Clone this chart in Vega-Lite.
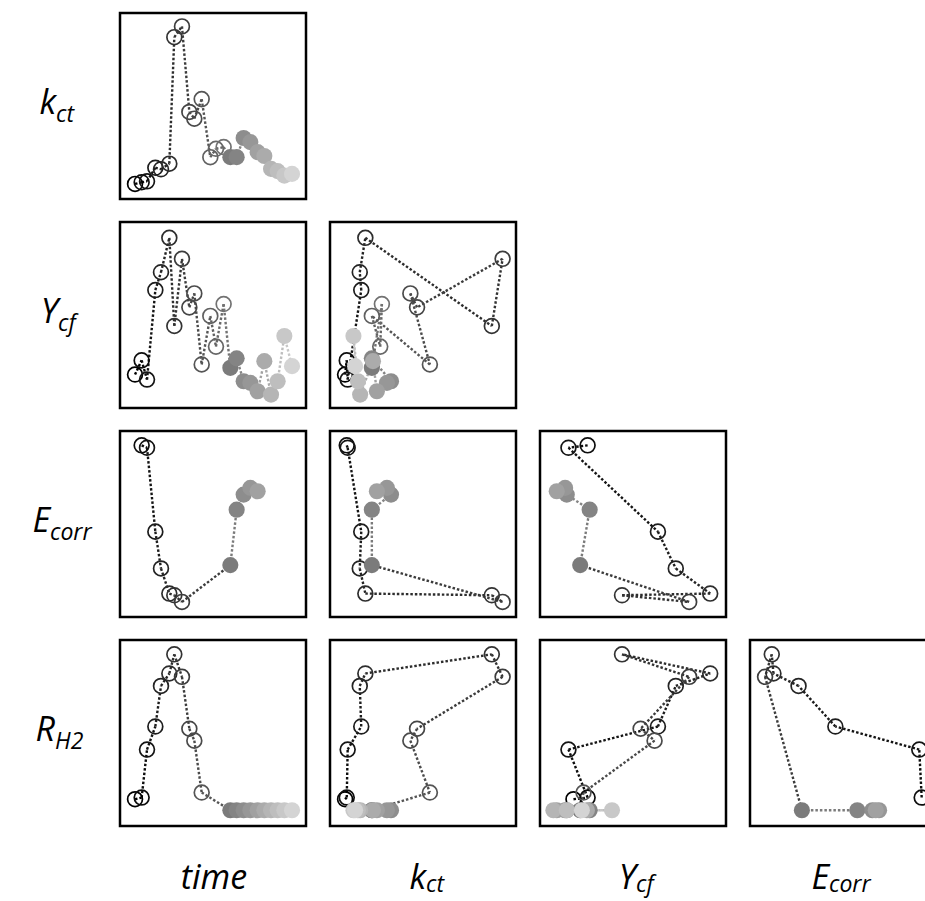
{
"$schema": "https://vega.github.io/schema/vega-lite/v6.json",
"padding": {"left": 0, "top": 11, "right": 0, "bottom": 5},
"background": "white",
"config": {"view": {"stroke": "#000000", "strokeWidth": 2.5}},
"datasets": {"d": [
{"time":2.02,"kct":0.81,"ycf":1.80,"ecorr":null,"rh2":1.44,"phase":"open"},
{"time":2.91,"kct":0.90,"ycf":2.56,"ecorr":9.23,"rh2":1.53,"phase":"open"},
{"time":3.63,"kct":0.95,"ycf":1.53,"ecorr":9.10,"rh2":4.11,"phase":"open"},
{"time":4.75,"kct":1.68,"ycf":6.34,"ecorr":4.59,"rh2":5.35,"phase":"open"},
{"time":5.51,"kct":1.60,"ycf":7.30,"ecorr":2.61,"rh2":7.53,"phase":"open"},
{"time":6.63,"kct":1.90,"ycf":9.15,"ecorr":1.26,"rh2":8.20,"phase":"open"},
{"time":7.30,"kct":8.70,"ycf":4.41,"ecorr":1.17,"rh2":9.23,"phase":"open"},
{"time":8.33,"kct":9.28,"ycf":8.02,"ecorr":0.81,"rh2":8.02,"phase":"open"},
{"time":9.32,"kct":4.68,"ycf":5.41,"ecorr":null,"rh2":5.23,"phase":"open"},
{"time":9.99,"kct":4.32,"ycf":6.16,"ecorr":null,"rh2":4.59,"phase":"open"},
{"time":10.98,"kct":5.37,"ycf":2.34,"ecorr":null,"rh2":1.80,"phase":"open"},
{"time":12.14,"kct":2.25,"ycf":4.95,"ecorr":null,"rh2":null,"phase":"open"},
{"time":12.90,"kct":2.70,"ycf":3.30,"ecorr":null,"rh2":null,"phase":"open"},
{"time":13.93,"kct":2.79,"ycf":5.59,"ecorr":null,"rh2":null,"phase":"open"},
{"time":14.83,"kct":2.25,"ycf":2.16,"ecorr":2.79,"rh2":0.85,"phase":"filled"},
{"time":15.68,"kct":2.25,"ycf":2.67,"ecorr":5.77,"rh2":0.85,"phase":"filled"},
{"time":16.62,"kct":3.28,"ycf":1.44,"ecorr":6.58,"rh2":0.85,"phase":"filled"},
{"time":17.52,"kct":3.06,"ycf":1.35,"ecorr":6.94,"rh2":0.85,"phase":"filled"},
{"time":18.50,"kct":2.52,"ycf":0.90,"ecorr":6.76,"rh2":0.85,"phase":"filled"},
{"time":19.40,"kct":2.31,"ycf":2.52,"ecorr":null,"rh2":0.85,"phase":"filled"},
{"time":20.30,"kct":1.62,"ycf":0.72,"ecorr":null,"rh2":0.85,"phase":"filled"},
{"time":21.19,"kct":1.50,"ycf":1.44,"ecorr":null,"rh2":0.85,"phase":"filled"},
{"time":22.09,"kct":1.26,"ycf":3.87,"ecorr":null,"rh2":0.85,"phase":"filled"},
{"time":23.12,"kct":1.35,"ycf":2.25,"ecorr":null,"rh2":0.85,"phase":"filled"}
]},
"spacing": 19,
"vconcat": [
{"spacing": 20, "hconcat": [
 {"width": 98, "height": 186, "view": {"stroke": null}, "data": {"values": [{}]}, "layer": [
  {"mark": {"type": "text", "text": "k", "font": "Open Sans", "fontStyle": "italic", "fontSize": 34, "align": "right", "baseline": "alphabetic", "x": 56, "y": 101}},
  {"mark": {"type": "text", "text": "ct", "font": "Open Sans", "fontStyle": "italic", "fontSize": 23, "align": "left", "baseline": "alphabetic", "x": 56, "y": 109}}
 ]},
 {"width": 186, "height": 186, "data": {"name": "d"},
  "transform": [{"filter": "isValid(datum.time) && isValid(datum.kct)"}, {"window": [{"op": "lead", "field": "time", "as": "nx"}, {"op": "lead", "field": "kct", "as": "ny"}], "sort": [{"field": "time", "order": "ascending"}]}],
  "encoding": {
   "x": {"field": "time", "type": "quantitative", "scale": {"domain": [0, 25], "nice": false, "zero": false}, "axis": null},
   "y": {"field": "kct", "type": "quantitative", "scale": {"domain": [0, 10], "nice": false, "zero": false}, "axis": null},
   "color": {"field": "time", "type": "quantitative", "scale": {"domain": [2.02, 23.12], "range": ["#000000", "#d4d4d4"]}, "legend": null}},
  "layer": [
   {"transform": [{"filter": "isValid(datum.nx)"}], "mark": {"type": "rule", "strokeDash": [2.5, 2], "strokeWidth": 2.4}, "encoding": {"x2": {"field": "nx"}, "y2": {"field": "ny"}}},
   {"transform": [{"filter": "datum.phase == 'open'"}], "mark": {"type": "point", "filled": false, "size": 220, "strokeWidth": 1.7, "opacity": 1}},
   {"transform": [{"filter": "datum.phase == 'filled'"}], "mark": {"type": "point", "filled": true, "size": 260, "opacity": 1}}
  ]}
]},
{"spacing": 20, "hconcat": [
 {"width": 98, "height": 186, "view": {"stroke": null}, "data": {"values": [{}]}, "layer": [
  {"mark": {"type": "text", "text": "Y", "font": "Open Sans", "fontStyle": "italic", "fontSize": 34, "align": "right", "baseline": "alphabetic", "x": 58, "y": 101}},
  {"mark": {"type": "text", "text": "cf", "font": "Open Sans", "fontStyle": "italic", "fontSize": 23, "align": "left", "baseline": "alphabetic", "x": 58, "y": 109}}
 ]},
 {"width": 186, "height": 186, "data": {"name": "d"},
  "transform": [{"filter": "isValid(datum.time) && isValid(datum.ycf)"}, {"window": [{"op": "lead", "field": "time", "as": "nx"}, {"op": "lead", "field": "ycf", "as": "ny"}], "sort": [{"field": "time", "order": "ascending"}]}],
  "encoding": {
   "x": {"field": "time", "type": "quantitative", "scale": {"domain": [0, 25], "nice": false, "zero": false}, "axis": null},
   "y": {"field": "ycf", "type": "quantitative", "scale": {"domain": [0, 10], "nice": false, "zero": false}, "axis": null},
   "color": {"field": "time", "type": "quantitative", "scale": {"domain": [2.02, 23.12], "range": ["#000000", "#d4d4d4"]}, "legend": null}},
  "layer": [
   {"transform": [{"filter": "isValid(datum.nx)"}], "mark": {"type": "rule", "strokeDash": [2.5, 2], "strokeWidth": 2.4}, "encoding": {"x2": {"field": "nx"}, "y2": {"field": "ny"}}},
   {"transform": [{"filter": "datum.phase == 'open'"}], "mark": {"type": "point", "filled": false, "size": 220, "strokeWidth": 1.7, "opacity": 1}},
   {"transform": [{"filter": "datum.phase == 'filled'"}], "mark": {"type": "point", "filled": true, "size": 260, "opacity": 1}}
  ]},
 {"width": 186, "height": 186, "data": {"name": "d"},
  "transform": [{"filter": "isValid(datum.kct) && isValid(datum.ycf)"}, {"window": [{"op": "lead", "field": "kct", "as": "nx"}, {"op": "lead", "field": "ycf", "as": "ny"}], "sort": [{"field": "time", "order": "ascending"}]}],
  "encoding": {
   "x": {"field": "kct", "type": "quantitative", "scale": {"domain": [0, 10], "nice": false, "zero": false}, "axis": null},
   "y": {"field": "ycf", "type": "quantitative", "scale": {"domain": [0, 10], "nice": false, "zero": false}, "axis": null},
   "color": {"field": "time", "type": "quantitative", "scale": {"domain": [2.02, 23.12], "range": ["#000000", "#d4d4d4"]}, "legend": null}},
  "layer": [
   {"transform": [{"filter": "isValid(datum.nx)"}], "mark": {"type": "rule", "strokeDash": [2.5, 2], "strokeWidth": 2.4}, "encoding": {"x2": {"field": "nx"}, "y2": {"field": "ny"}}},
   {"transform": [{"filter": "datum.phase == 'open'"}], "mark": {"type": "point", "filled": false, "size": 220, "strokeWidth": 1.7, "opacity": 1}},
   {"transform": [{"filter": "datum.phase == 'filled'"}], "mark": {"type": "point", "filled": true, "size": 260, "opacity": 1}}
  ]}
]},
{"spacing": 20, "hconcat": [
 {"width": 98, "height": 186, "view": {"stroke": null}, "data": {"values": [{}]}, "layer": [
  {"mark": {"type": "text", "text": "E", "font": "Open Sans", "fontStyle": "italic", "fontSize": 34, "align": "right", "baseline": "alphabetic", "x": 50, "y": 101}},
  {"mark": {"type": "text", "text": "corr", "font": "Open Sans", "fontStyle": "italic", "fontSize": 23, "align": "left", "baseline": "alphabetic", "x": 50, "y": 109}}
 ]},
 {"width": 186, "height": 186, "data": {"name": "d"},
  "transform": [{"filter": "isValid(datum.time) && isValid(datum.ecorr)"}, {"window": [{"op": "lead", "field": "time", "as": "nx"}, {"op": "lead", "field": "ecorr", "as": "ny"}], "sort": [{"field": "time", "order": "ascending"}]}],
  "encoding": {
   "x": {"field": "time", "type": "quantitative", "scale": {"domain": [0, 25], "nice": false, "zero": false}, "axis": null},
   "y": {"field": "ecorr", "type": "quantitative", "scale": {"domain": [0, 10], "nice": false, "zero": false}, "axis": null},
   "color": {"field": "time", "type": "quantitative", "scale": {"domain": [2.02, 23.12], "range": ["#000000", "#d4d4d4"]}, "legend": null}},
  "layer": [
   {"transform": [{"filter": "isValid(datum.nx)"}], "mark": {"type": "rule", "strokeDash": [2.5, 2], "strokeWidth": 2.4}, "encoding": {"x2": {"field": "nx"}, "y2": {"field": "ny"}}},
   {"transform": [{"filter": "datum.phase == 'open'"}], "mark": {"type": "point", "filled": false, "size": 220, "strokeWidth": 1.7, "opacity": 1}},
   {"transform": [{"filter": "datum.phase == 'filled'"}], "mark": {"type": "point", "filled": true, "size": 260, "opacity": 1}}
  ]},
 {"width": 186, "height": 186, "data": {"name": "d"},
  "transform": [{"filter": "isValid(datum.kct) && isValid(datum.ecorr)"}, {"window": [{"op": "lead", "field": "kct", "as": "nx"}, {"op": "lead", "field": "ecorr", "as": "ny"}], "sort": [{"field": "time", "order": "ascending"}]}],
  "encoding": {
   "x": {"field": "kct", "type": "quantitative", "scale": {"domain": [0, 10], "nice": false, "zero": false}, "axis": null},
   "y": {"field": "ecorr", "type": "quantitative", "scale": {"domain": [0, 10], "nice": false, "zero": false}, "axis": null},
   "color": {"field": "time", "type": "quantitative", "scale": {"domain": [2.02, 23.12], "range": ["#000000", "#d4d4d4"]}, "legend": null}},
  "layer": [
   {"transform": [{"filter": "isValid(datum.nx)"}], "mark": {"type": "rule", "strokeDash": [2.5, 2], "strokeWidth": 2.4}, "encoding": {"x2": {"field": "nx"}, "y2": {"field": "ny"}}},
   {"transform": [{"filter": "datum.phase == 'open'"}], "mark": {"type": "point", "filled": false, "size": 220, "strokeWidth": 1.7, "opacity": 1}},
   {"transform": [{"filter": "datum.phase == 'filled'"}], "mark": {"type": "point", "filled": true, "size": 260, "opacity": 1}}
  ]},
 {"width": 186, "height": 186, "data": {"name": "d"},
  "transform": [{"filter": "isValid(datum.ycf) && isValid(datum.ecorr)"}, {"window": [{"op": "lead", "field": "ycf", "as": "nx"}, {"op": "lead", "field": "ecorr", "as": "ny"}], "sort": [{"field": "time", "order": "ascending"}]}],
  "encoding": {
   "x": {"field": "ycf", "type": "quantitative", "scale": {"domain": [0, 10], "nice": false, "zero": false}, "axis": null},
   "y": {"field": "ecorr", "type": "quantitative", "scale": {"domain": [0, 10], "nice": false, "zero": false}, "axis": null},
   "color": {"field": "time", "type": "quantitative", "scale": {"domain": [2.02, 23.12], "range": ["#000000", "#d4d4d4"]}, "legend": null}},
  "layer": [
   {"transform": [{"filter": "isValid(datum.nx)"}], "mark": {"type": "rule", "strokeDash": [2.5, 2], "strokeWidth": 2.4}, "encoding": {"x2": {"field": "nx"}, "y2": {"field": "ny"}}},
   {"transform": [{"filter": "datum.phase == 'open'"}], "mark": {"type": "point", "filled": false, "size": 220, "strokeWidth": 1.7, "opacity": 1}},
   {"transform": [{"filter": "datum.phase == 'filled'"}], "mark": {"type": "point", "filled": true, "size": 260, "opacity": 1}}
  ]}
]},
{"spacing": 20, "hconcat": [
 {"width": 98, "height": 186, "view": {"stroke": null}, "data": {"values": [{}]}, "layer": [
  {"mark": {"type": "text", "text": "R", "font": "Open Sans", "fontStyle": "italic", "fontSize": 34, "align": "right", "baseline": "alphabetic", "x": 55, "y": 101}},
  {"mark": {"type": "text", "text": "H2", "font": "Open Sans", "fontStyle": "italic", "fontSize": 23, "align": "left", "baseline": "alphabetic", "x": 55, "y": 109}}
 ]},
 {"width": 186, "height": 186, "data": {"name": "d"},
  "transform": [{"filter": "isValid(datum.time) && isValid(datum.rh2)"}, {"window": [{"op": "lead", "field": "time", "as": "nx"}, {"op": "lead", "field": "rh2", "as": "ny"}], "sort": [{"field": "time", "order": "ascending"}]}],
  "encoding": {
   "x": {"field": "time", "type": "quantitative", "scale": {"domain": [0, 25], "nice": false, "zero": false}, "axis": null},
   "y": {"field": "rh2", "type": "quantitative", "scale": {"domain": [0, 10], "nice": false, "zero": false}, "axis": null},
   "color": {"field": "time", "type": "quantitative", "scale": {"domain": [2.02, 23.12], "range": ["#000000", "#d4d4d4"]}, "legend": null}},
  "layer": [
   {"transform": [{"filter": "isValid(datum.nx)"}], "mark": {"type": "rule", "strokeDash": [2.5, 2], "strokeWidth": 2.4}, "encoding": {"x2": {"field": "nx"}, "y2": {"field": "ny"}}},
   {"transform": [{"filter": "datum.phase == 'open'"}], "mark": {"type": "point", "filled": false, "size": 220, "strokeWidth": 1.7, "opacity": 1}},
   {"transform": [{"filter": "datum.phase == 'filled'"}], "mark": {"type": "point", "filled": true, "size": 260, "opacity": 1}}
  ]},
 {"width": 186, "height": 186, "data": {"name": "d"},
  "transform": [{"filter": "isValid(datum.kct) && isValid(datum.rh2)"}, {"window": [{"op": "lead", "field": "kct", "as": "nx"}, {"op": "lead", "field": "rh2", "as": "ny"}], "sort": [{"field": "time", "order": "ascending"}]}],
  "encoding": {
   "x": {"field": "kct", "type": "quantitative", "scale": {"domain": [0, 10], "nice": false, "zero": false}, "axis": null},
   "y": {"field": "rh2", "type": "quantitative", "scale": {"domain": [0, 10], "nice": false, "zero": false}, "axis": null},
   "color": {"field": "time", "type": "quantitative", "scale": {"domain": [2.02, 23.12], "range": ["#000000", "#d4d4d4"]}, "legend": null}},
  "layer": [
   {"transform": [{"filter": "isValid(datum.nx)"}], "mark": {"type": "rule", "strokeDash": [2.5, 2], "strokeWidth": 2.4}, "encoding": {"x2": {"field": "nx"}, "y2": {"field": "ny"}}},
   {"transform": [{"filter": "datum.phase == 'open'"}], "mark": {"type": "point", "filled": false, "size": 220, "strokeWidth": 1.7, "opacity": 1}},
   {"transform": [{"filter": "datum.phase == 'filled'"}], "mark": {"type": "point", "filled": true, "size": 260, "opacity": 1}}
  ]},
 {"width": 186, "height": 186, "data": {"name": "d"},
  "transform": [{"filter": "isValid(datum.ycf) && isValid(datum.rh2)"}, {"window": [{"op": "lead", "field": "ycf", "as": "nx"}, {"op": "lead", "field": "rh2", "as": "ny"}], "sort": [{"field": "time", "order": "ascending"}]}],
  "encoding": {
   "x": {"field": "ycf", "type": "quantitative", "scale": {"domain": [0, 10], "nice": false, "zero": false}, "axis": null},
   "y": {"field": "rh2", "type": "quantitative", "scale": {"domain": [0, 10], "nice": false, "zero": false}, "axis": null},
   "color": {"field": "time", "type": "quantitative", "scale": {"domain": [2.02, 23.12], "range": ["#000000", "#d4d4d4"]}, "legend": null}},
  "layer": [
   {"transform": [{"filter": "isValid(datum.nx)"}], "mark": {"type": "rule", "strokeDash": [2.5, 2], "strokeWidth": 2.4}, "encoding": {"x2": {"field": "nx"}, "y2": {"field": "ny"}}},
   {"transform": [{"filter": "datum.phase == 'open'"}], "mark": {"type": "point", "filled": false, "size": 220, "strokeWidth": 1.7, "opacity": 1}},
   {"transform": [{"filter": "datum.phase == 'filled'"}], "mark": {"type": "point", "filled": true, "size": 260, "opacity": 1}}
  ]},
 {"width": 186, "height": 186, "data": {"name": "d"},
  "transform": [{"filter": "isValid(datum.ecorr) && isValid(datum.rh2)"}, {"window": [{"op": "lead", "field": "ecorr", "as": "nx"}, {"op": "lead", "field": "rh2", "as": "ny"}], "sort": [{"field": "time", "order": "ascending"}]}],
  "encoding": {
   "x": {"field": "ecorr", "type": "quantitative", "scale": {"domain": [0, 10], "nice": false, "zero": false}, "axis": null},
   "y": {"field": "rh2", "type": "quantitative", "scale": {"domain": [0, 10], "nice": false, "zero": false}, "axis": null},
   "color": {"field": "time", "type": "quantitative", "scale": {"domain": [2.02, 23.12], "range": ["#000000", "#d4d4d4"]}, "legend": null}},
  "layer": [
   {"transform": [{"filter": "isValid(datum.nx)"}], "mark": {"type": "rule", "strokeDash": [2.5, 2], "strokeWidth": 2.4}, "encoding": {"x2": {"field": "nx"}, "y2": {"field": "ny"}}},
   {"transform": [{"filter": "datum.phase == 'open'"}], "mark": {"type": "point", "filled": false, "size": 220, "strokeWidth": 1.7, "opacity": 1}},
   {"transform": [{"filter": "datum.phase == 'filled'"}], "mark": {"type": "point", "filled": true, "size": 260, "opacity": 1}}
  ]}
]},
{"spacing": 20, "hconcat": [
 {"width": 98, "height": 46, "view": {"stroke": null}, "data": {"values": [{}]}, "mark": {"type": "text", "text": ""}},
 {"width": 188.5, "height": 46, "view": {"stroke": null}, "data": {"values": [{}]}, "layer": [
  {"mark": {"type": "text", "text": "time", "font": "Open Sans", "fontStyle": "italic", "fontSize": 34, "align": "center", "baseline": "alphabetic", "x": 96, "y": 42}}
 ]},
 {"width": 188.5, "height": 46, "view": {"stroke": null}, "data": {"values": [{}]}, "layer": [
  {"mark": {"type": "text", "text": "k", "font": "Open Sans", "fontStyle": "italic", "fontSize": 34, "align": "right", "baseline": "alphabetic", "x": 99, "y": 42}},
  {"mark": {"type": "text", "text": "ct", "font": "Open Sans", "fontStyle": "italic", "fontSize": 23, "align": "left", "baseline": "alphabetic", "x": 99, "y": 45}}
 ]},
 {"width": 188.5, "height": 46, "view": {"stroke": null}, "data": {"values": [{}]}, "layer": [
  {"mark": {"type": "text", "text": "Y", "font": "Open Sans", "fontStyle": "italic", "fontSize": 34, "align": "right", "baseline": "alphabetic", "x": 100, "y": 42}},
  {"mark": {"type": "text", "text": "cf", "font": "Open Sans", "fontStyle": "italic", "fontSize": 23, "align": "left", "baseline": "alphabetic", "x": 100, "y": 45}}
 ]},
 {"width": 188.5, "height": 46, "view": {"stroke": null}, "data": {"values": [{}]}, "layer": [
  {"mark": {"type": "text", "text": "E", "font": "Open Sans", "fontStyle": "italic", "fontSize": 34, "align": "right", "baseline": "alphabetic", "x": 84, "y": 42}},
  {"mark": {"type": "text", "text": "corr", "font": "Open Sans", "fontStyle": "italic", "fontSize": 23, "align": "left", "baseline": "alphabetic", "x": 84, "y": 45}}
 ]}
]}
]
}
